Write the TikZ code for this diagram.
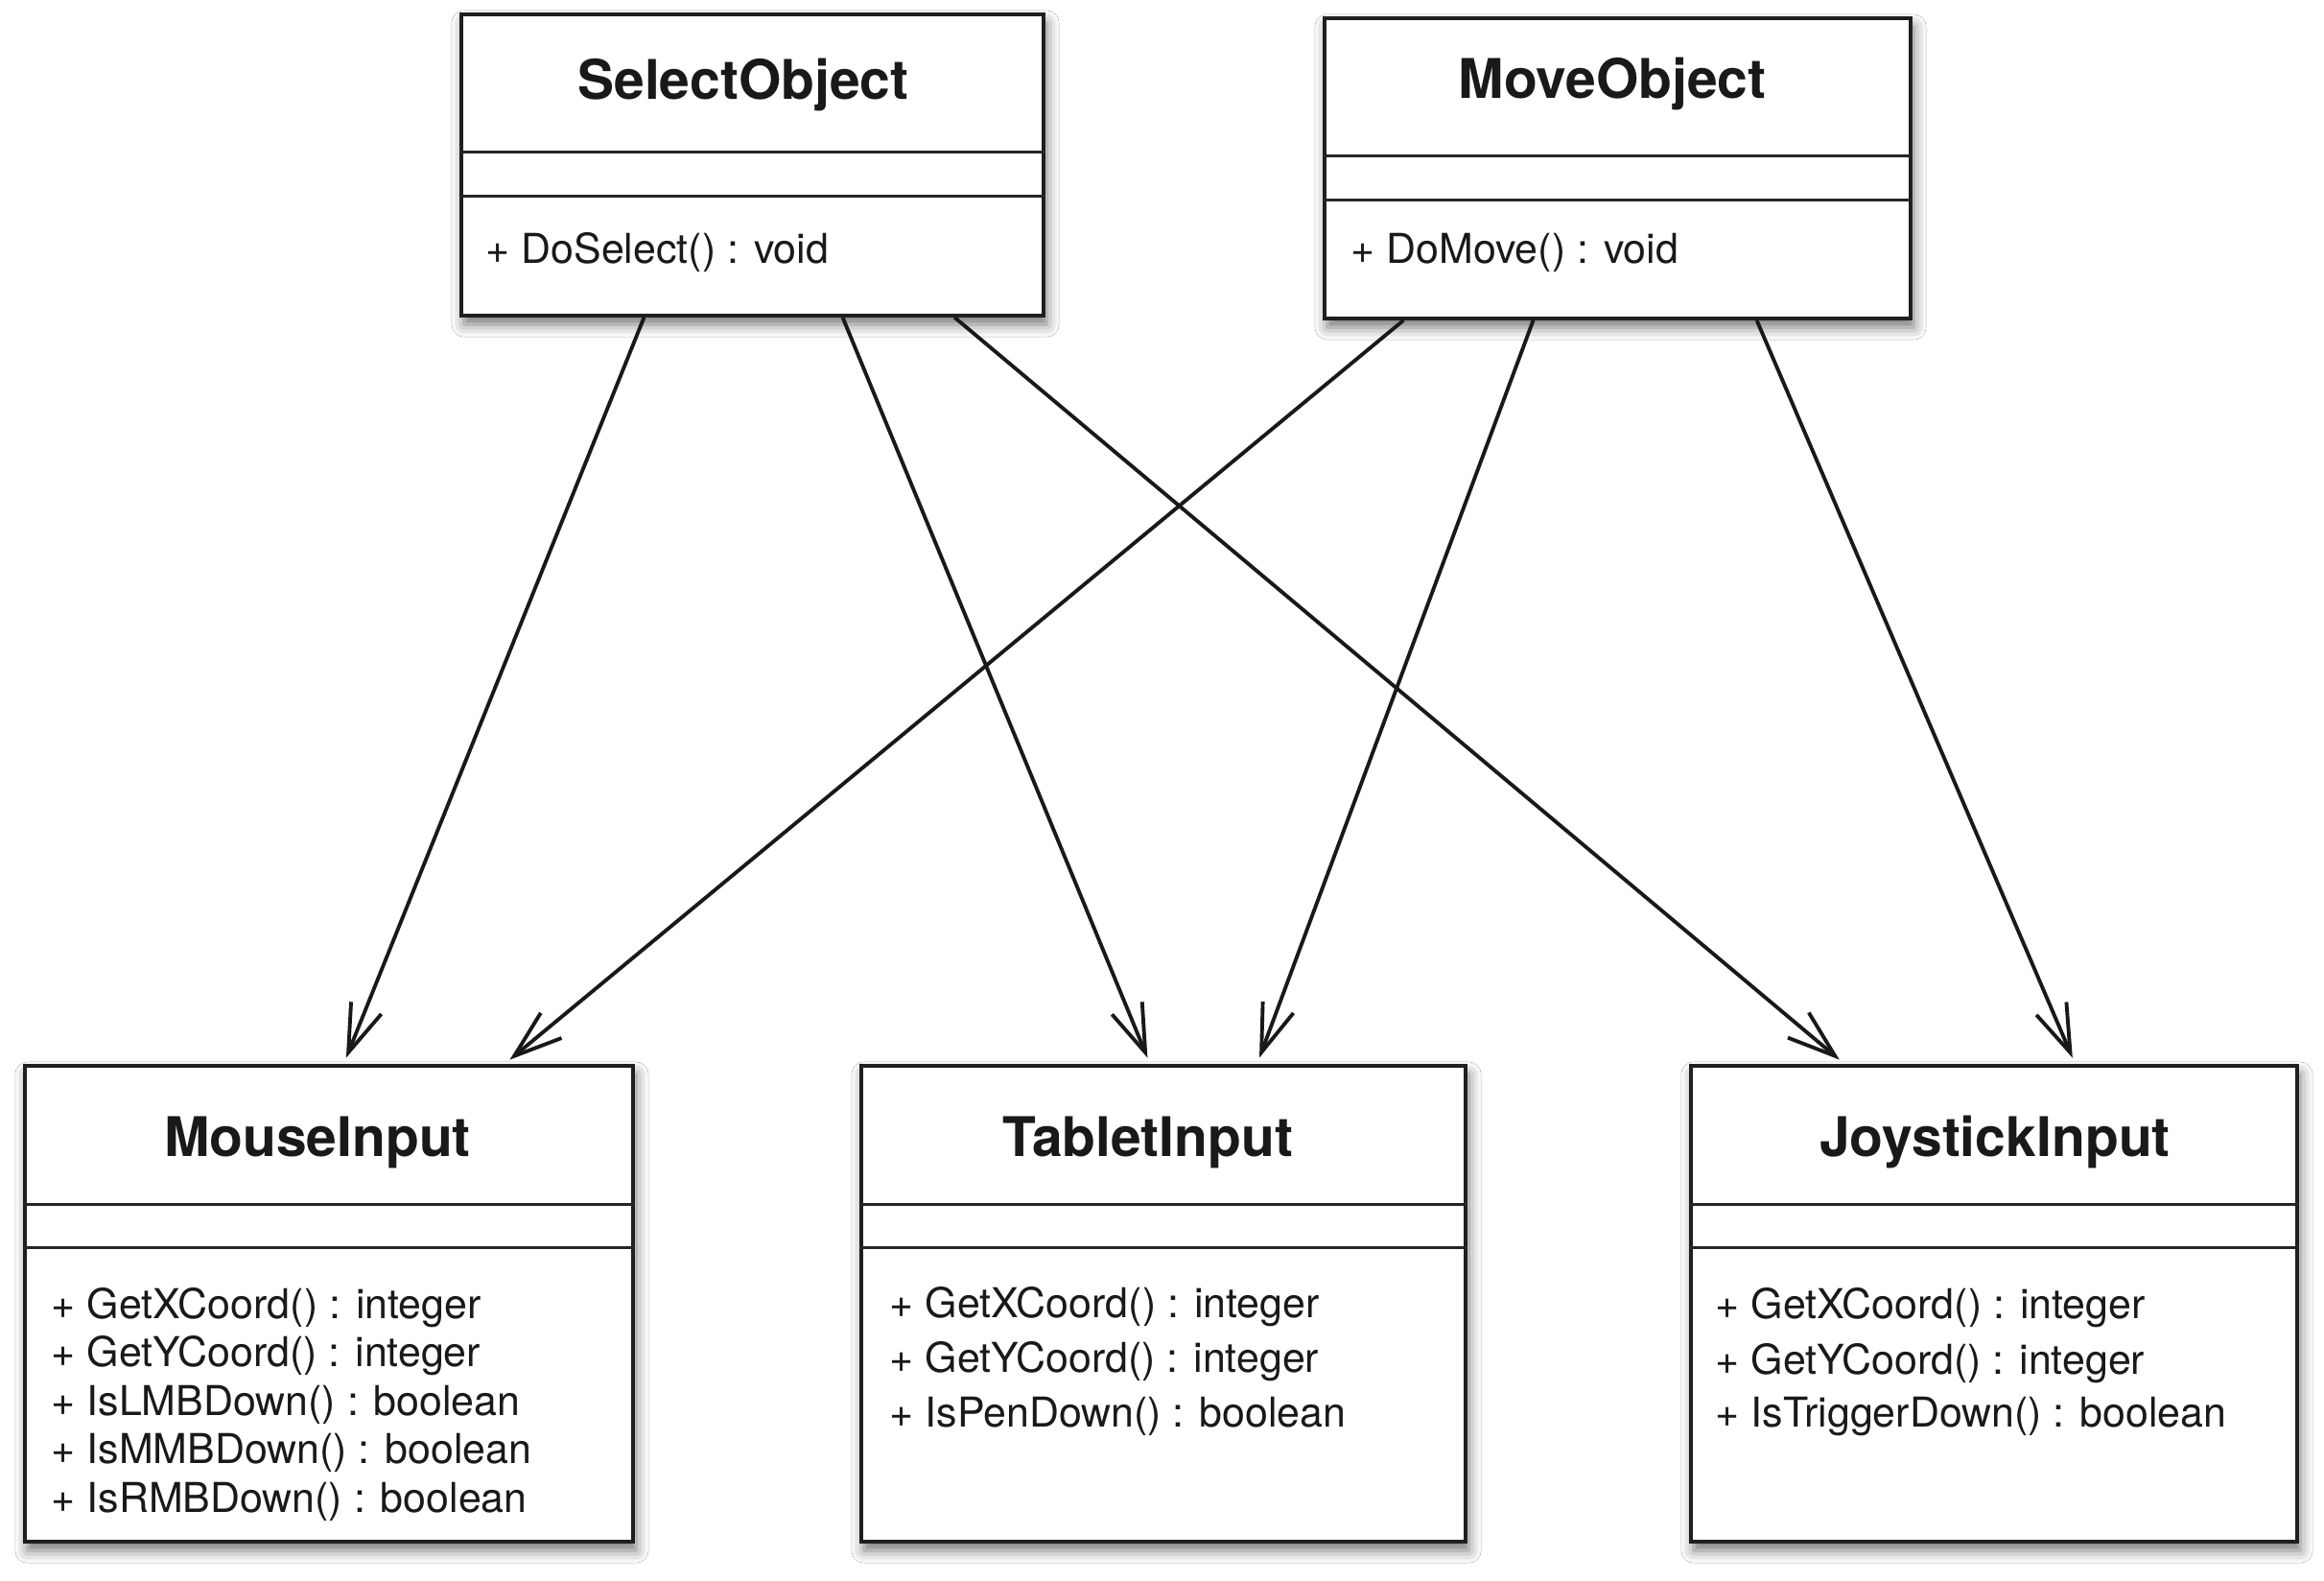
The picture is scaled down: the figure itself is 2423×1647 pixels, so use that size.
\documentclass[tikz,border=0pt]{standalone}
\usepackage{fontspec}
\setmainfont{TeX Gyre Heros}
\usetikzlibrary{arrows.meta,calc,shadows.blur}
\begin{document}
\begin{tikzpicture}[x=0.01cm,y=-0.01cm,
  classbox/.style={draw=black!88, line width=1.0pt, fill=white, inner sep=0pt,
    blur shadow={shadow xshift=0.3mm, shadow yshift=-0.9mm, shadow blur radius=1.3mm, shadow opacity=55}},
  classtitle/.style={font=\fontsize{16.2}{19}\selectfont\bfseries, inner sep=0pt, anchor=base, text=black!90},
  member/.style={font=\fontsize{12.2}{14}\selectfont, inner sep=0pt, anchor=base west, text=black!90},
  divider/.style={line width=0.9pt, draw=black!85},
  dep/.style={line width=1.1pt, draw=black!90, -{Straight Barb[length=5mm,width=3.4mm]}, shorten >=0.07cm}
]
\useasboundingbox (0,0) rectangle (2423,1647);
\fill[white] (0,0) rectangle (2423,1647);

% ---------- boxes ----------
\node[classbox, minimum width=6.07cm, minimum height=3.14cm] (sel) at (784.5,172) {};
\node[classbox, minimum width=6.11cm, minimum height=3.13cm] (mov) at (1686.5,175.5) {};
\node[classbox, minimum width=6.34cm, minimum height=4.96cm] (mou) at (343,1359) {};
\node[classbox, minimum width=6.30cm, minimum height=4.96cm] (tab) at (1213,1359) {};
\node[classbox, minimum width=6.32cm, minimum height=4.96cm] (joy) at (2079,1359) {};

% ---------- dividers ----------
\foreach \b/\da/\db in {sel/145/191, mov/145/191, mou/146/191, tab/146/191, joy/146/191}{
  \draw[divider] ($(\b.north west)+(0,\da)$) -- ($(\b.north east)+(0,\da)$);
  \draw[divider] ($(\b.north west)+(0,\db)$) -- ($(\b.north east)+(0,\db)$);
}

% ---------- titles ----------
\node[classtitle] (selt) at (775,103) {SelectObject};
\node[classtitle] (movt) at (1681,102) {MoveObject};
\node[classtitle] (mout) at (331,1205) {MouseInput};
\node[classtitle] (tabt) at (1197,1205) {TabletInput};
\node[classtitle] (joyt) at (2080,1205) {JoystickInput};

% ---------- members ----------
\node[member] (selm) at (506,274) {+ DoSelect() : void};
\node[member] (movm) at (1408,274) {+ DoMove() : void};

\node[member] (mou1) at (53,1374) {+ GetXCoord() : integer};
\node[member] (mou2) at (53,1424.5) {+ GetYCoord() : integer};
\node[member] (mou3) at (53,1475) {+ IsLMBDown() : boolean};
\node[member] (mou4) at (53,1525.5) {+ IsMMBDown() : boolean};
\node[member] (mou5) at (53,1576) {+ IsRMBDown() : boolean};

\node[member] (tab1) at (927,1373) {+ GetXCoord() : integer};
\node[member] (tab2) at (927,1430) {+ GetYCoord() : integer};
\node[member] (tab3) at (927,1487) {+ IsPenDown() : boolean};

\node[member] (joy1) at (1788,1374) {+ GetXCoord() : integer};
\node[member] (joy2) at (1788,1432) {+ GetYCoord() : integer};
\node[member] (joy3) at (1788,1487) {+ IsTriggerDown() : boolean};

% ---------- dependencies ----------
\draw[dep] ($(sel.south west)!0.315!(sel.south east)$) -- ($(mou.north west)!0.524!(mou.north east)$);
\draw[dep] ($(sel.south west)!0.654!(sel.south east)$) -- ($(tab.north west)!0.478!(tab.north east)$);
\draw[dep] ($(sel.south west)!0.845!(sel.south east)$) -- ($(joy.north west)!0.255!(joy.north east)$);
\draw[dep] ($(mov.south west)!0.137!(mov.south east)$) -- ($(mou.north west)!0.787!(mou.north east)$);
\draw[dep] ($(mov.south west)!0.357!(mov.south east)$) -- ($(tab.north west)!0.654!(tab.north east)$);
\draw[dep] ($(mov.south west)!0.736!(mov.south east)$) -- ($(joy.north west)!0.633!(joy.north east)$);
\end{tikzpicture}
\end{document}
